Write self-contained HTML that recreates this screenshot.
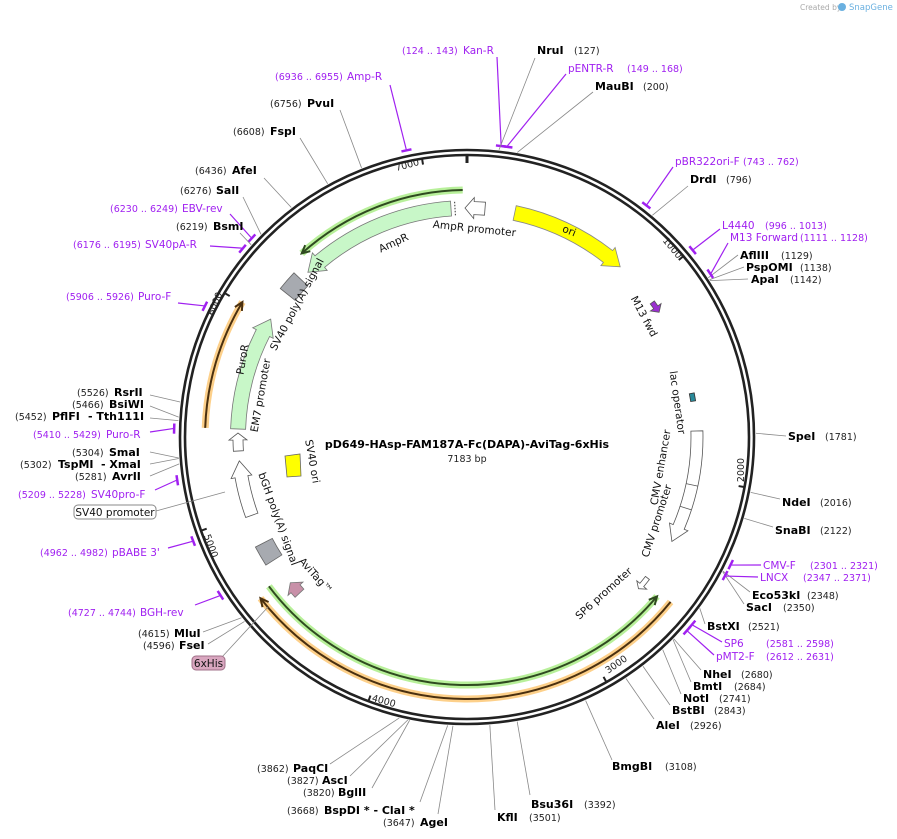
<!DOCTYPE html>
<html><head><meta charset="utf-8"><style>
html,body{margin:0;padding:0;background:#fff;width:897px;height:839px;overflow:hidden}
svg{display:block}
text{font-family:"DejaVu Sans","Liberation Sans",sans-serif}
.n{font-size:9.5px;fill:#222}
.b{font-size:11px;font-weight:bold;fill:#000}
.p{font-size:10.5px;fill:#a020f0}
.pn{font-size:9.5px;fill:#a020f0}
.f{font-size:10.5px;fill:#111}
</style></head><body>
<svg id="s" width="897" height="839" viewBox="0 0 897 839" xmlns="http://www.w3.org/2000/svg">
<text x="800" y="10" style="font-size:7.5px;fill:#aaa">Created by</text>
<circle cx="842" cy="7" r="4" fill="#6ab0e0"/>
<text x="849" y="10" style="font-size:8.5px;fill:#6ab0e0">SnapGene</text>
<g id="g"></g>
</svg>
<script>
const cx=467,cy=437,N=7183;
const R=d=>d*Math.PI/180;
function P(a,r){return [cx+r*Math.sin(R(a)),cy-r*Math.cos(R(a))];}
function f(p){return p[0].toFixed(1)+' '+p[1].toFixed(1);}
let h='';
function arc(a1,a2,r){const sw=a2>a1?1:0,lg=Math.abs(a2-a1)>180?1:0;return 'M'+f(P(a1,r))+' A'+r+' '+r+' 0 '+lg+' '+sw+' '+f(P(a2,r));}
function arcTo(a1,a2,r){const sw=a2>a1?1:0,lg=Math.abs(a2-a1)>180?1:0;return ' A'+r+' '+r+' 0 '+lg+' '+sw+' '+f(P(a2,r));}
function block(a1,a2,r,w,fill,stroke,head=true,hl=16){
 const dir=a2>a1?1:-1;let hd=head?Math.min(Math.abs(a2-a1)*0.7,hl/r*180/Math.PI):0;const ah=a2-dir*hd;
 const ro=r+w/2,ri=r-w/2;
 let d='M'+f(P(a1,ro))+arcTo(a1,ah,ro);
 if(head){d+=' L'+f(P(ah,ro+4))+' L'+f(P(a2,r))+' L'+f(P(ah,ri-4))+' L'+f(P(ah,ri));}
 else d+=' L'+f(P(a2,ri));
 d+=arcTo(ah,a1,ri)+' Z';
 h+=`<path d="${d}" fill="${fill}" stroke="${stroke}" stroke-width="0.8"/>`;
}
function track(a1,a2,r,halo,line){
 h+=`<path d="${arc(a1,a2,r)}" fill="none" stroke="${halo}" stroke-width="7"/>`;
 h+=`<path d="${arc(a1,a2,r)}" fill="none" stroke="${line}" stroke-width="2"/>`;
 const dir=a2>a1?1:-1,hd=8/r*180/Math.PI;
 h+=`<path d="M${f(P(a2-dir*hd,r+4))} L${f(P(a2,r))} L${f(P(a2-dir*hd,r-4))}" fill="none" stroke="${line}" stroke-width="2"/>`;
}
h+=`<circle cx="${cx}" cy="${cy}" r="287" fill="none" stroke="#222" stroke-width="2.6"/>`;
h+=`<circle cx="${cx}" cy="${cy}" r="282" fill="none" stroke="#222" stroke-width="2.6"/>`;
for(let k=0;k<8;k++){const a=k*1000/N*360;h+=`<line x1="${P(a,283)[0]}" y1="${P(a,283)[1]}" x2="${P(a,k==0?274:276)[0]}" y2="${P(a,k==0?274:276)[1]}" stroke="#222" stroke-width="${k==0?3:2}"/>`;}
const tl=[['1000',670,250,50],['2000',744,470,-90],['3000',618,667,-35],['4000',383,704,15],['5000',208,547,70],['6000',218,305,-68],['7000',408,168,-15]];
tl.forEach(t=>h+=`<text x="${t[1]}" y="${t[2]}" class="n" text-anchor="middle" transform="rotate(${t[3]} ${t[1]} ${t[2]})">${t[0]}</text>`);
track(359,318,247,'#b8f09a','#2f4a20');
track(233,130,248,'#b8f09a','#2f4a20');
track(129,232,262,'#fdd08a','#4a3010');
track(272,301,262,'#fdd08a','#4a3010');
block(12,42,229,15,'#ffff00','#888');
block(356,316,229,15,'#c8f7c8','#777');
h+=`<path d="M${f(P(357,222))} L${f(P(357,236))}" stroke="#333" stroke-dasharray="1.5 1.5"/>`;
block(4.5,-0.5,229,13,'#fff','#555',true,9);
block(272,301,229,15,'#c8f7c8','#777');
block(266.5,271,229,10,'#fff','#555',true,7);
block(250,264,229,13,'#fff','#555');
block(308.5,313.5,229,19,'#a7aab0','#666',false);
block(237.5,242.5,229,19,'#a7aab0','#666',false);
block(227,230.5,229,12,'#c890a8','#777',true,8);
block(54,57,229,5,'#9b30d0','#555',true,6);
block(79,81,229,5,'#2a8a9a','#333',false);
block(88.5,117,230,12,'#fff','#555');
h+=`<path d="M${f(P(102,224))} L${f(P(102,236))} M${f(P(108,224))} L${f(P(108,236))}" stroke="#555" stroke-width="0.8"/>`;
block(128,131.5,229,5,'#fff','#555',true,5);
h+=`<path d="M285 456 L300 454 L301 476 L287 477 Z" fill="#ffff00" stroke="#666" stroke-width="0.8"/>`;
const il=[['AmpR',395,246,-25],['AmpR promoter',474,232,6],['ori',568,234,22],['SV40 poly(A) signal',300,306,-62],['PuroR',246,360,-80],['EM7 promoter',264,396,-80],['SV40 ori',309,462,80],['bGH poly(A) signal',275,520,70],['AviTag™',313,578,48],['M13 fwd',641,318,62],['lac operator',674,403,82],['CMV enhancer',664,468,-80],['CMV promoter',660,522,-72],['SP6 promoter',606,596,-42]];
il.forEach(t=>h+=`<text x="${t[1]}" y="${t[2]}" class="f" text-anchor="middle" transform="rotate(${t[3]} ${t[1]} ${t[2]})">${t[0]}</text>`);
h+=`<text x="467" y="448" text-anchor="middle" style="font-size:11px;font-weight:bold">pD649-HAsp-FAM187A-Fc(DAPA)-AviTag-6xHis</text>`;
h+=`<text x="467" y="462" text-anchor="middle" class="n">7183 bp</text>`;
const L=[
[[['(124 .. 143)','pn',402],['Kan-R','p',463]],54,[497,57],133,1],
[[['NruI','b',537],['(127)','n',574]],54,[535,58],127,0],
[[['pENTR-R','p',568],['(149 .. 168)','pn',627]],72,[566,74],158,1],
[[['MauBI','b',595],['(200)','n',643]],90,[593,92],200,0],
[[['(6936 .. 6955)','pn',275],['Amp-R','p',347]],80,[390,85],6945,1],
[[['(6756)','n',270],['PvuI','b',307]],107,[340,110],6756,0],
[[['(6608)','n',233],['FspI','b',270]],135,[300,138],6608,0],
[[['(6436)','n',195],['AfeI','b',232]],174,[264,178],6436,0],
[[['(6276)','n',180],['SalI','b',216]],194,[243,197],6276,0],
[[['(6230 .. 6249)','pn',110],['EBV-rev','p',182]],212,[230,214],6240,1],
[[['(6219)','n',176],['BsmI','b',213]],230,[240,233],6219,0],
[[['(6176 .. 6195)','pn',73],['SV40pA-R','p',145]],248,[210,246],6185,1],
[[['(5906 .. 5926)','pn',66],['Puro-F','p',138]],300,[178,303],5916,1],
[[['(5526)','n',77],['RsrII','b',114]],396,[150,395],5526,0],
[[['(5466)','n',72],['BsiWI','b',109]],408,[150,406],5466,0],
[[['(5452)','n',15],['PflFI','b',52],['- Tth111I','b',88]],420,[150,418],5452,0],
[[['(5410 .. 5429)','pn',33],['Puro-R','p',106]],438,[150,432],5420,1],
[[['(5304)','n',72],['SmaI','b',109]],456,[150,452],5304,0],
[[['(5302)','n',20],['TspMI','b',58],['- XmaI','b',101]],468,[150,464],5302,0],
[[['(5281)','n',75],['AvrII','b',112]],480,[150,476],5281,0],
[[['(5209 .. 5228)','pn',18],['SV40pro-F','p',91]],498,[155,490],5218,1],
[[['(4962 .. 4982)','pn',40],['pBABE 3\'','p',112]],556,[168,548],4972,1],
[[['(4727 .. 4744)','pn',68],['BGH-rev','p',140]],616,[195,605],4735,1],
[[['(4615)','n',138],['MluI','b',174]],637,[203,632],4615,0],
[[['(4596)','n',143],['FseI','b',179]],649,[208,644],4596,0],
[[['(3862)','n',257],['PaqCI','b',293]],772,[330,764],3862,0],
[[['(3827)','n',287],['AscI','b',322]],784,[350,776],3827,0],
[[['(3820)','n',303],['BglII','b',338]],796,[372,788],3820,0],
[[['(3668)','n',287],['BspDI * - ClaI *','b',324]],814,[420,802],3668,0],
[[['(3647)','n',383],['AgeI','b',420]],826,[438,814],3647,0],
[[['KflI','b',497],['(3501)','n',529]],821,[495,810],3501,0],
[[['Bsu36I','b',531],['(3392)','n',584]],808,[530,795],3392,0],
[[['BmgBI','b',612],['(3108)','n',665]],770,[612,760],3108,0],
[[['AleI','b',656],['(2926)','n',690]],729,[654,719],2926,0],
[[['BstBI','b',672],['(2843)','n',714]],714,[670,705],2843,0],
[[['NotI','b',683],['(2741)','n',719]],702,[681,694],2741,0],
[[['BmtI','b',693],['(2684)','n',734]],690,[691,682],2684,0],
[[['NheI','b',703],['(2680)','n',741]],678,[701,670],2680,0],
[[['pMT2-F','p',716],['(2612 .. 2631)','pn',766]],660,[714,655],2621,1],
[[['SP6','p',724],['(2581 .. 2598)','pn',766]],647,[722,642],2590,1],
[[['BstXI','b',707],['(2521)','n',748]],630,[705,624],2521,0],
[[['SacI','b',746],['(2350)','n',783]],611,[744,604],2350,0],
[[['Eco53kI','b',752],['(2348)','n',807]],599,[750,592],2348,0],
[[['LNCX','p',760],['(2347 .. 2371)','pn',803]],581,[758,577],2359,1],
[[['CMV-F','p',763],['(2301 .. 2321)','pn',810]],569,[761,565],2311,1],
[[['SnaBI','b',775],['(2122)','n',820]],534,[773,527],2122,0],
[[['NdeI','b',782],['(2016)','n',820]],506,[780,499],2016,0],
[[['SpeI','b',788],['(1781)','n',825]],440,[786,436],1781,0],
[[['ApaI','b',751],['(1142)','n',790]],283,[748,279],1142,0],
[[['PspOMI','b',746],['(1138)','n',800]],271,[744,267],1138,0],
[[['AflIII','b',740],['(1129)','n',781]],259,[738,255],1129,0],
[[['M13 Forward','p',730],['(1111 .. 1128)','pn',800]],241,[728,243],1120,1],
[[['L4440','p',722],['(996 .. 1013)','pn',765]],229,[720,229],1005,1],
[[['DrdI','b',690],['(796)','n',726]],183,[688,186],796,0],
[[['pBR322ori-F','p',675],['(743 .. 762)','pn',743]],165,[673,167],753,1]
];
L.forEach(l=>{
 const a=l[3]/N*360;const e=P(a,l[4]?294:289);const col=l[4]?'#a020f0':'#888';
 h+=`<line x1="${l[2][0]}" y1="${l[2][1]}" x2="${e[0]}" y2="${e[1]}" stroke="${col}" stroke-width="${l[4]?1.2:0.8}"/>`;
 if(l[4]){const q1=P(a-1,293),q2=P(a+1,293);h+=`<line x1="${q1[0]}" y1="${q1[1]}" x2="${q2[0]}" y2="${q2[1]}" stroke="#a020f0" stroke-width="2.5"/>`;}
 l[0].forEach(t=>h+=`<text x="${t[2]}" y="${l[1]}" class="${t[1]}">${t[0]}</text>`);
});
h+=`<line x1="156" y1="511" x2="225" y2="492" stroke="#888" stroke-width="0.8"/>`;
h+=`<rect x="74" y="505" width="82" height="14" rx="4" fill="#fff" stroke="#888"/><text x="115" y="516" class="f" text-anchor="middle">SV40 promoter</text>`;
h+=`<line x1="222" y1="657" x2="268" y2="607" stroke="#888" stroke-width="0.8"/>`;
h+=`<rect x="192" y="656" width="33" height="14" rx="4" fill="#d9a6bf" stroke="#a07088"/><text x="208.5" y="667" class="f" text-anchor="middle">6xHis</text>`;
document.getElementById('g').innerHTML=h;
</script>
</body></html>
